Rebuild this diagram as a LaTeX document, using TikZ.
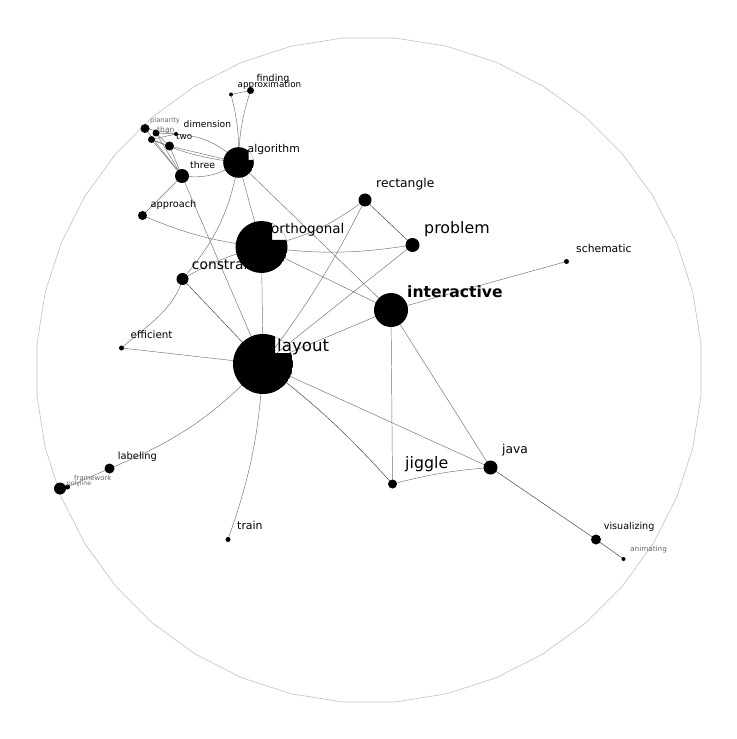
\documentclass[tikz,border=0pt]{standalone}
\usepackage{fontspec}
\setmainfont{DejaVu Sans}
\usetikzlibrary{shapes.geometric, backgrounds}

\newcommand{\notchfill}[4]{%
\begin{scope}
\clip (#1.center) circle (#2);
\fill[even odd rule] (#1.center) circle (#2) ([shift={(#3,-#4)}]#1.center) rectangle ++(80,-80);
\end{scope}}

\begin{document}
\begin{tikzpicture}[x=0.03cm, y=-0.03cm,
  dot/.style={circle, fill=black, inner sep=0pt, minimum size=#1*0.6mm},
  hub/.style={circle, inner sep=0pt, minimum size=#1*0.6mm},
  edge/.style={draw=black!55, line width=0.4pt},
  tag/.style={anchor=base west, inner sep=0pt, font=\fontsize{#1}{#1}\selectfont},
  faint/.style={text=black!60}]
\useasboundingbox (0,0) rectangle (736,739);

\node[regular polygon, regular polygon sides=40, minimum size=19.98cm, inner sep=0pt, draw=black!25, line width=0.5pt] (rim) at (369,370) {};

\node[dot=2] (approximation) at (231,94.5) {};
\node[dot=3.5] (finding) at (250.5,90.5) {};
\node[dot=4.5] (planarity) at (145,128.5) {};
\node[dot=3.5] (than) at (156,133) {};
\node[dot=3.5] (other) at (151.5,139.5) {};
\node[dot=2] (dimension) at (176,134) {};
\node[dot=4.5] (two) at (169.5,146) {};
\node[dot=7] (three) at (182,176) {};
\node[hub=30.6] (algorithm) at (238.5,162.5) {};
\node[dot=4.5] (approach) at (142.5,215.5) {};
\node[dot=6.5] (rectangle) at (365,200) {};
\node[dot=7] (problem) at (412.5,245) {};
\node[hub=52] (orthogonal) at (261.5,247) {};
\node[dot=6] (constraint) at (182.5,279) {};
\node[dot=2.5] (schematic) at (566.5,261.5) {};
\node[dot=17] (interactive) at (391,310) {};
\node[dot=2.5] (efficient) at (121.5,348) {};
\node[hub=60] (layout) at (263,364) {};
\node[dot=5] (labeling) at (109.5,468.5) {};
\node[dot=2.5] (framework) at (67.5,487) {};
\node[dot=6] (polyline) at (60,488.5) {};
\node[dot=2.5] (train) at (228,539.5) {};
\node[dot=4.5] (jiggle) at (392.5,484) {};
\node[dot=7] (java) at (490.5,467.5) {};
\node[dot=5] (visualizing) at (596,539.5) {};
\node[dot=2] (animating) at (623.5,559) {};

\notchfill{algorithm}{0.459cm}{10}{2.5}
\notchfill{orthogonal}{0.78cm}{10.5}{7}
\notchfill{layout}{0.9cm}{12}{11}

\begin{scope}[on background layer]
\draw[edge] (approximation.center) -- (finding.center);
\draw[edge] (approximation.center) to[bend left=8] (algorithm.center);
\draw[edge] (finding.center) to[bend right=8] (algorithm.center);
\draw[edge] (planarity.center) -- (dimension.center);
\draw[edge] (than.center) -- (dimension.center);
\draw[edge] (other.center) -- (dimension.center);
\draw[edge] (other.center) -- (two.center);
\draw[edge] (than.center) -- (two.center);
\draw[edge] (planarity.center) -- (three.center);
\draw[edge] (than.center) -- (three.center);
\draw[edge] (other.center) -- (three.center);
\draw[edge] (two.center) -- (three.center);
\draw[edge] (dimension.center) to[bend left=20] (algorithm.center);
\draw[edge] (other.center) to[bend right=8] (algorithm.center);
\draw[edge] (two.center) -- (algorithm.center);
\draw[edge] (three.center) to[bend right=20] (algorithm.center);
\draw[edge] (three.center) -- (layout.center);
\draw[edge] (approach.center) -- (three.center);
\draw[edge] (approach.center) to[bend right=8] (orthogonal.center);
\draw[edge] (algorithm.center) -- (orthogonal.center);
\draw[edge] (algorithm.center) to[bend left=15] (constraint.center);
\draw[edge] (algorithm.center) -- (interactive.center);
\draw[edge] (orthogonal.center) to[bend right=12] (rectangle.center);
\draw[edge, draw=black!75] (rectangle.center) -- (problem.center);
\draw[edge] (rectangle.center) to[bend left=5] (layout.center);
\draw[edge] (orthogonal.center) to[bend right=8] (problem.center);
\draw[edge] (problem.center) -- (layout.center);
\draw[edge] (orthogonal.center) -- (interactive.center);
\draw[edge] (orthogonal.center) -- (layout.center);
\draw[edge] (constraint.center) to[bend left=8] (orthogonal.center);
\draw[edge, draw=black!75] (constraint.center) -- (layout.center);
\draw[edge] (constraint.center) .. controls +(-8,30) and +(25,-22) .. (efficient.center);
\draw[edge] (efficient.center) -- (layout.center);
\draw[edge] (interactive.center) -- (layout.center);
\draw[edge] (interactive.center) -- (schematic.center);
\draw[edge] (interactive.center) -- (jiggle.center);
\draw[edge] (interactive.center) -- (java.center);
\draw[edge, draw=black!75] (layout.center) to[bend left=5] (jiggle.center);
\draw[edge] (layout.center) -- (java.center);
\draw[edge] (layout.center) to[bend left=12] (labeling.center);
\draw[edge] (layout.center) to[bend left=8] (train.center);
\draw[edge] (labeling.center) -- (framework.center);
\draw[edge] (framework.center) -- (polyline.center);
\draw[edge] (jiggle.center) to[bend left=5] (java.center);
\draw[edge, draw=black!75] (java.center) -- (visualizing.center);
\draw[edge, draw=black!75] (visualizing.center) -- (animating.center);
\end{scope}

\node[tag=8.1] (finding-lbl) at (256.5,82) {finding};
\node[tag=7.5] (approximation-lbl) at (237.5,88) {approximation};
\node[tag=5.7, faint] (planarity-lbl) at (150,123) {planarity};
\node[tag=7.8] (dimension-lbl) at (183.5,128) {dimension};
\node[tag=6.5, faint] (than-lbl) at (157,133) {than};
\node[tag=7.5] (two-lbl) at (176,139.5) {two};
\node[tag=9.2] (algorithm-lbl) at (247.5,152.5) {algorithm};
\node[tag=8] (three-lbl) at (190,168.8) {three};
\node[tag=10.5] (rectangle-lbl) at (376,188) {rectangle};
\node[tag=8.3] (approach-lbl) at (150.5,208) {approach};
\node[tag=13.5] (problem-lbl) at (424,233) {problem};
\node[tag=11.5] (orthogonal-lbl) at (271,234) {orthogonal};
\node[tag=9.2] (schematic-lbl) at (576,252) {schematic};
\node[tag=11.8] (constraint-lbl) at (191.7,269.8) {constraint};
\node[tag=13.3, font=\fontsize{13.3}{13.3}\selectfont\bfseries] (interactive-lbl) at (407,297) {interactive};
\node[tag=8.8] (efficient-lbl) at (130.5,338.7) {efficient};
\node[tag=14.2] (layout-lbl) at (277,351) {layout};
\node[tag=10.5] (java-lbl) at (502,453) {java};
\node[tag=8.4] (labeling-lbl) at (117.7,459) {labeling};
\node[tag=13.5] (jiggle-lbl) at (405,468) {jiggle};
\node[tag=5.9, faint] (framework-lbl) at (74,480) {framework};
\node[tag=5.3, faint] (polyline-lbl) at (66.6,485) {polyline};
\node[tag=9.3] (train-lbl) at (237,529) {train};
\node[tag=8.2] (visualizing-lbl) at (603.6,529.5) {visualizing};
\node[tag=6.2, faint] (animating-lbl) at (630,551) {animating};
\end{tikzpicture}
\end{document}
